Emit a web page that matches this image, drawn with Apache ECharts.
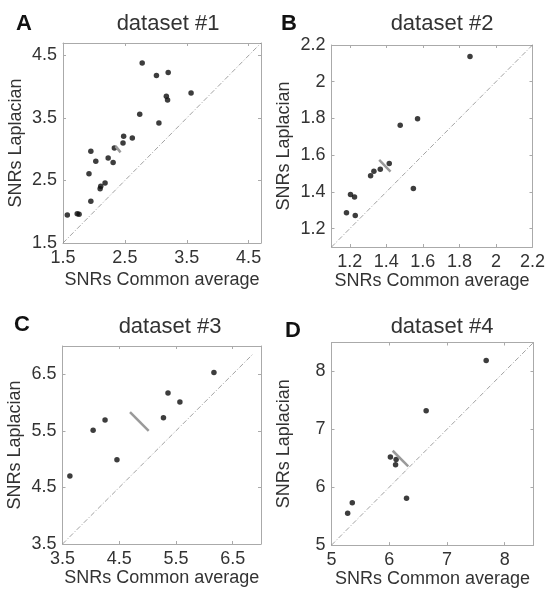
<!DOCTYPE html>
<html>
<head>
<meta charset="utf-8">
<script src="https://cdn.jsdelivr.net/npm/echarts@6/dist/echarts.min.js"></script>
<style>html,body{margin:0;padding:0;background:#fff}#c{width:548px;height:589px}</style>
</head>
<body>
<div id="c"></div>
<script>
// ---- Data ----
const titles = ['dataset #1', 'dataset #2', 'dataset #3', 'dataset #4'];
const letters = ['A', 'B', 'C', 'D'];
const xTitle = 'SNRs Common average';
const yTitle = 'SNRs Laplacian';

// Panel A
const xA = [1.57, 1.73, 1.76, 1.95, 2.10, 2.11, 2.18, 1.92, 2.03, 1.95, 2.23, 2.31, 2.33, 2.47, 2.48, 2.62, 2.74, 2.78, 3.05, 3.01, 3.20, 3.17, 3.19, 3.57];
const yA = [1.95, 1.97, 1.96, 2.17, 2.37, 2.41, 2.46, 2.61, 2.81, 2.97, 2.86, 2.79, 3.02, 3.10, 3.21, 3.18, 3.56, 4.38, 3.42, 4.18, 4.23, 3.85, 3.79, 3.90];
const meanAx = [2.35, 2.43];
const meanAy = [3.05, 2.95];
const diagA = [1.5, 4.7];
const rangeA = [1.5, 4.7];
const ticksA = [1.5, 2.5, 3.5, 4.5];

// Panel B
const xB = [1.182, 1.204, 1.226, 1.230, 1.314, 1.332, 1.367, 1.416, 1.476, 1.571, 1.548, 1.858];
const yB = [1.287, 1.386, 1.372, 1.272, 1.488, 1.513, 1.524, 1.555, 1.763, 1.798, 1.419, 2.138];
const meanBx = [1.361, 1.423];
const meanBy = [1.575, 1.511];
const diagB = [1.1, 2.2];
const rangeB = [1.1, 2.2];
const ticksB = [1.2, 1.4, 1.6, 1.8, 2, 2.2];

// Panel C
const xC = [3.63, 4.04, 4.25, 4.46, 5.28, 5.36, 5.57, 6.17];
const yC = [4.70, 5.51, 5.69, 4.99, 5.73, 6.17, 6.01, 6.53];
const meanCx = [4.69, 5.02];
const meanCy = [5.83, 5.50];
const diagC = [3.5, 6.85];
const rangeC = [3.5, 7.0];
const ticksC = [3.5, 4.5, 5.5, 6.5];

// Panel D
const xD = [5.28, 5.36, 6.02, 6.12, 6.11, 6.30, 6.64, 7.68];
const yD = [5.55, 5.73, 6.52, 6.48, 6.39, 5.81, 7.32, 8.19];
const meanDx = [6.06, 6.33];
const meanDy = [6.63, 6.36];
const diagD = [5, 8.5];
const rangeD = [5, 8.5];
const ticksD = [5, 6, 7, 8];

// ---- Layout ----
const FONT = 'Liberation Sans, Arial, sans-serif';
const grids = [
  {left: 63, top: 43, width: 198, height: 200},
  {left: 331.5, top: 45, width: 201, height: 202},
  {left: 62.5, top: 346, width: 198.5, height: 198},
  {left: 331.5, top: 342.5, width: 202, height: 203.5}
];
const panels = [
  {x: xA, y: yA, mx: meanAx, my: meanAy, diag: diagA, range: rangeA, ticks: ticksA, xGap: 28},
  {x: xB, y: yB, mx: meanBx, my: meanBy, diag: diagB, range: rangeB, ticks: ticksB, xGap: 18},
  {x: xC, y: yC, mx: meanCx, my: meanCy, diag: diagC, range: rangeC, ticks: ticksC, xGap: 20},
  {x: xD, y: yD, mx: meanDx, my: meanDy, diag: diagD, range: rangeD, ticks: ticksD, xGap: 21}
];
const titlePos = [[163, 8], [437, 8], [165, 311], [437, 311]];
const letterPos = [[11, 8], [276, 8], [9, 309], [280, 315]];

const axisColor = '#aaaaaa';
const textColor = '#333333';
const xAxes = [], yAxes = [], series = [], titleArr = [];

panels.forEach((p, i) => {
  const main = {
    gridIndex: i, type: 'value', min: p.range[0], max: p.range[1],
    axisLine: {show: true, onZero: false, lineStyle: {color: axisColor, width: 1}},
    axisTick: {show: true, inside: true, length: 3, customValues: p.ticks, lineStyle: {color: axisColor}},
    axisLabel: {show: true, customValues: p.ticks, color: textColor, fontSize: 18, fontFamily: FONT, margin: 6, showMinLabel: true, showMaxLabel: true},
    splitLine: {show: false},
    nameLocation: 'middle',
    nameTextStyle: {color: textColor, fontSize: 18, fontFamily: FONT}
  };
  const mirror = {
    gridIndex: i, type: 'value', min: p.range[0], max: p.range[1],
    axisLine: {show: true, onZero: false, lineStyle: {color: axisColor, width: 1}},
    axisTick: {show: true, inside: true, length: 3, customValues: p.ticks, lineStyle: {color: axisColor}},
    axisLabel: {show: false},
    splitLine: {show: false}
  };
  xAxes.push(Object.assign({}, main, {position: 'bottom', name: xTitle, nameGap: p.xGap}));
  xAxes.push(Object.assign({}, mirror, {position: 'top'}));
  yAxes.push(Object.assign({}, main, {position: 'left', name: yTitle, nameGap: 38, nameRotate: 90}));
  yAxes.push(Object.assign({}, mirror, {position: 'right'}));

  const xi = i * 2, yi = i * 2;
  series.push({
    type: 'line', xAxisIndex: xi, yAxisIndex: yi,
    data: p.diag.map(v => [v, v]), symbol: 'none', silent: true,
    lineStyle: {color: '#8a8a8a', width: 0.8, type: [5, 2, 1, 2]}
  });
  series.push({
    type: 'line', xAxisIndex: xi, yAxisIndex: yi,
    data: p.mx.map((v, k) => [v, p.my[k]]), symbol: 'none', silent: true,
    lineStyle: {color: '#9a9a9a', width: 2.5}
  });
  series.push({
    type: 'scatter', xAxisIndex: xi, yAxisIndex: yi,
    data: p.x.map((v, k) => [v, p.y[k]]), symbol: 'circle', symbolSize: 5.5,
    itemStyle: {color: '#0d0d0d'}
  });
  titleArr.push({
    text: titles[i], left: titlePos[i][0], top: titlePos[i][1], textAlign: 'center',
    textStyle: {fontFamily: FONT, fontSize: 22, fontWeight: 'normal', color: textColor}
  });
  titleArr.push({
    text: letters[i], left: letterPos[i][0], top: letterPos[i][1],
    textStyle: {fontFamily: FONT, fontSize: 22, fontWeight: 'bold', color: '#111'}
  });
});

const chart = echarts.init(document.getElementById('c'), null, {renderer: 'canvas'});
chart.setOption({
  animation: false,
  backgroundColor: '#ffffff',
  title: titleArr,
  grid: grids,
  xAxis: xAxes,
  yAxis: yAxes,
  series: series
});
</script>
</body>
</html>
